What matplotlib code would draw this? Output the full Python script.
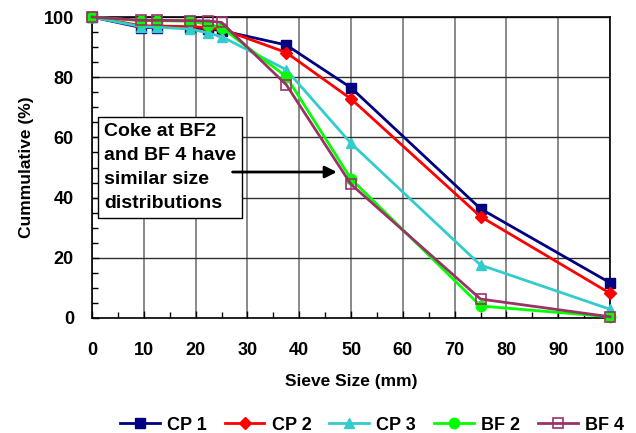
import matplotlib.pyplot as plt
from matplotlib.ticker import MultipleLocator

plt.rcParams['font.family'] = ['Liberation Sans', 'DejaVu Sans']
plt.rcParams['font.weight'] = 'bold'

# sieve sizes (mm) and cumulative passing (%)
sieve = [0, 9.5, 12.5, 19, 22.4, 25, 37.5, 50, 75, 100]
cp1 = [100, 96.5, 96.5, 96.5, 96.0, 95.5, 90.7, 76.5, 36.3, 11.7]
cp2 = [100, 97.1, 97.0, 96.8, 96.5, 96.0, 88.2, 72.8, 33.7, 8.2]
cp3 = [100, 96.8, 96.6, 96.0, 94.7, 93.5, 82.5, 58.0, 17.6, 2.9]
bf2 = [100, 98.8, 98.8, 98.6, 97.5, 96.5, 80.2, 46.2, 4.0, 0.4]
bf4 = [100, 98.9, 98.9, 98.8, 98.7, 98.2, 77.5, 44.4, 6.3, 0.4]

names = ['CP 1', 'CP 2', 'CP 3', 'BF 2', 'BF 4']
series = [cp1, cp2, cp3, bf2, bf4]
colors = ['#000080', '#FF0000', '#33CCCC', '#00FF00', '#993366']
markers = ['s', 'D', '^', 'o', 's']

fig = plt.figure(figsize=(6.36, 4.33), dpi=100)
ax = fig.add_axes([0.1447, 0.2656, 0.8145, 0.6951])

ax.grid(axis='x', color='#808080', lw=1.3)
ax.grid(axis='y', color='#303030', lw=1.0)
ax.set_axisbelow(True)

for name, vals, c, m in zip(names, series, colors, markers):
    ms = 7.5 if m != 'D' else 6.5
    if name == 'BF 4':
        ax.plot(sieve, vals, color=c, marker=m, ms=ms, mfc='none', mec=c,
                mew=1.2, lw=2, label=name, clip_on=False, zorder=3)
    else:
        ax.plot(sieve, vals, color=c, marker=m, ms=ms, mfc=c, mec=c,
                lw=2, label=name, clip_on=False, zorder=3)

ax.set_xlim(0, 100)
ax.set_ylim(0, 100)
ax.xaxis.set_major_locator(MultipleLocator(10))
ax.xaxis.set_minor_locator(MultipleLocator(5))
ax.yaxis.set_major_locator(MultipleLocator(20))
ax.yaxis.set_minor_locator(MultipleLocator(5))
ax.tick_params(which='both', direction='in', labelsize=13, width=1)
ax.tick_params(which='major', length=5)
ax.tick_params(which='minor', length=4)
ax.tick_params(axis='x', which='major', pad=17)
ax.tick_params(axis='y', which='major', pad=13)
for lab in ax.get_xticklabels() + ax.get_yticklabels():
    lab.set_fontweight('bold')
for s in ax.spines.values():
    s.set_linewidth(1.2)

ax.set_xlabel('Sieve Size (mm)', fontsize=12.5, fontweight='bold', labelpad=11)
ax.set_ylabel('Cummulative (%)', fontsize=12.5, fontweight='bold', labelpad=7)

ax.text(2.3, 64.8, 'Coke at BF2\nand BF 4 have\nsimilar size\ndistributions',
        fontsize=14, fontweight='bold', va='top', ha='left', linespacing=1.55,
        bbox=dict(boxstyle='square,pad=0.3', fc='white', ec='black', lw=1),
        zorder=4)
ax.annotate('', xy=(47.8, 48.5), xytext=(26.6, 48.5),
            arrowprops=dict(arrowstyle='-|>,head_length=0.5,head_width=0.25',
                            color='black', lw=2, mutation_scale=14), zorder=5)

fig.legend(loc='center', bbox_to_anchor=(0.585, 0.018), ncol=5, frameon=False,
           handlelength=2.2, columnspacing=1.0, handletextpad=0.4,
           prop={'weight': 'bold', 'size': 13})

fig.savefig('out.png', dpi=100)
